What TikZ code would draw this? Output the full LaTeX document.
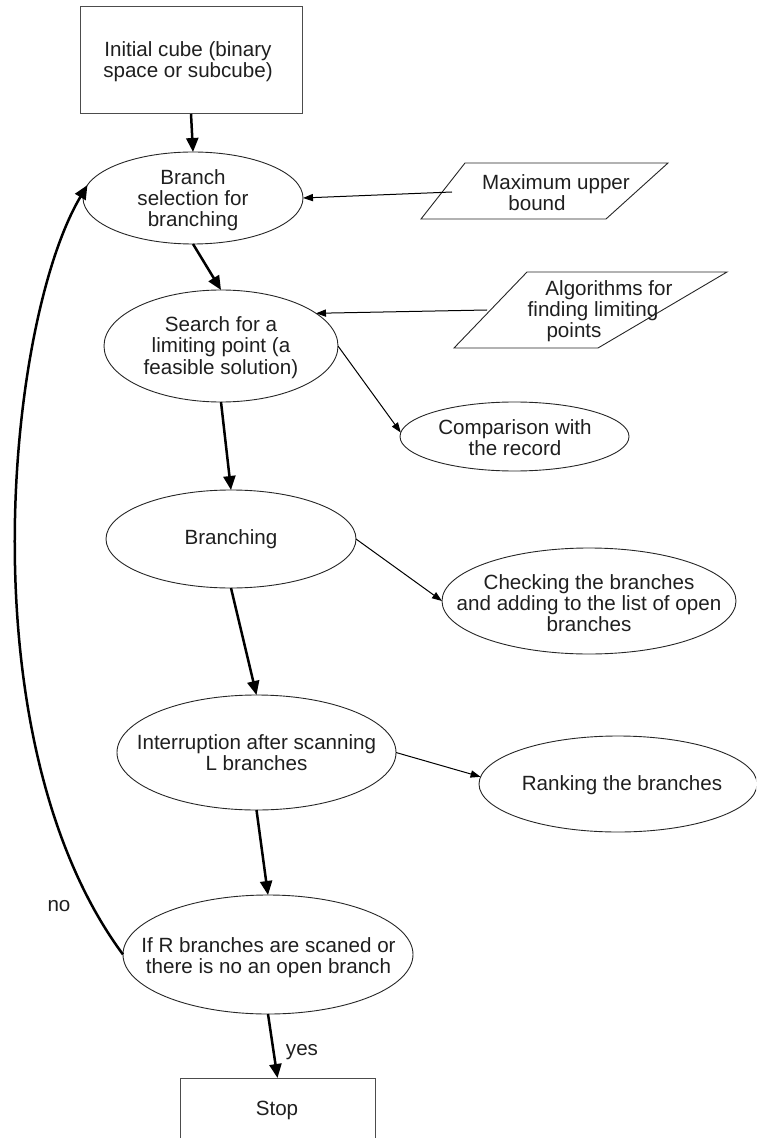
\documentclass[tikz,border=0pt]{standalone}
\usepackage{fontspec}
\setmainfont{Liberation Sans}
\usetikzlibrary{shapes.geometric,arrows.meta}

% shift one centred line sideways without changing its width
\newcommand{\nudge}[2]{\hspace*{#1}#2\hspace*{-#1}}

\begin{document}
\begin{tikzpicture}[x=0.5pt,y=-0.5pt,
  txt/.style={inner sep=0pt,align=center,text=black!88,
    font=\fontsize{10.3pt}{10.6pt}\selectfont},
  oval/.style 2 args={ellipse,draw=black!85,line width=0.45pt,inner sep=0pt,
    outer sep=0pt,minimum width=#1,minimum height=#2},
  block/.style 2 args={rectangle,draw=black!70,line width=0.5pt,inner sep=0pt,
    outer sep=0pt,minimum width=#1,minimum height=#2},
  slant/.style={draw=black!85,line width=0.45pt,line join=miter},
  flow/.style={draw=black,line width=1.25pt,-{Triangle[length=7pt,width=6pt]}},
  side/.style={draw=black,line width=0.5pt,-{Triangle[length=5pt,width=3.6pt]}}]

\useasboundingbox (0,0) rectangle (756,1138);
\clip (0,0) rectangle (756,1138);

% --- main column -------------------------------------------------------
\node[block={111pt}{53.5pt}] (init) at (191,60.5) {};
\node[txt] (init-t) at (188,62) {Initial cube (binary\\space or subcube)};

\node[oval={110pt}{46pt}] (sel) at (193,198) {};
\node[txt] (sel-t) at (193,200) {Branch\\selection for\\branching};

\node[oval={117pt}{56pt}] (search) at (221,346) {};
\node[txt] (search-t) at (221,347.5) {Search for a\\limiting point (a\\feasible solution)};

\node[oval={125pt}{49pt}] (branching) at (231,539) {};
\node[txt] (branching-t) at (231,539) {Branching};

\node[oval={139.5pt}{57.5pt}] (interrupt) at (256.5,752.5) {};
\node[txt] (interrupt-t) at (256.5,753) {Interruption after scanning\\L branches};

\node[oval={145pt}{59.5pt}] (ifr) at (268,954.5) {};
\node[txt] (ifr-t) at (268.5,958) {If R branches are scaned or\\there is no an open branch};

\node[block={97.5pt}{41pt}] (stop) at (277.5,1119) {};
\node[txt] (stop-t) at (277,1110) {Stop};

% --- side nodes ---------------------------------------------------------
\coordinate (mu-tl) at (465,163);
\coordinate (mu-tr) at (668,163);
\coordinate (mu-br) at (606,219);
\coordinate (mu-bl) at (421,219);
\draw[slant] (mu-tl) -- (mu-tr) -- (mu-br) -- (mu-bl) -- cycle;
\node[txt] (maxub) at (546.5,192.5)
  {\nudge{4.75pt}{Maximum upper}\\\nudge{-4.75pt}{bound}};
\coordinate (maxub-out) at (452,192);

\coordinate (al-tl) at (527,272);
\coordinate (al-tr) at (727,272);
\coordinate (al-br) at (598,348);
\coordinate (al-bl) at (454,348);
\draw[slant] (al-tl) -- (al-tr) -- (al-br) -- (al-bl) -- cycle;
\node[txt] (algo) at (592,311)
  {\nudge{8.5pt}{Algorithms for}\\\nudge{1pt}{finding limiting}\\\nudge{-9pt}{points}};
\coordinate (algo-out) at (487,310);

\node[oval={114.5pt}{34.5pt}] (comp) at (514.5,436.5) {};
\node[txt] (comp-t) at (515,437.5) {Comparison with\\the record};

\node[oval={147pt}{53pt}] (check) at (589,601) {};
\node[txt] (check-t) at (589,603) {Checking the branches\\and adding to the list of open\\branches};

\node[oval={139pt}{48pt}] (ranking) at (618,784) {};
\node[txt] (ranking-t) at (622,785) {Ranking the branches};

% --- connectors ---------------------------------------------------------
\draw[flow] (init.south) -- (sel.north);
\draw[flow] (sel.south) -- (search.north);
\draw[flow] (search.south) -- (branching.north);
\draw[flow] (branching.south) -- (interrupt.north);
\draw[flow] (interrupt.south) -- (ifr.north);
\draw[flow] (ifr.south) -- (stop.north);

\draw[side] (maxub-out) -- (sel.east);
\draw[side] (algo-out) -- (search.19);
\draw[side] (search.east) -- (comp.178);
\draw[side] (branching.east) -- (check.west);
\draw[side] (interrupt.east) -- (ranking.177);

\draw[flow] (ifr.west) .. controls +(-159,-215) and +(-80,134) .. (sel.173);

% --- branch labels ------------------------------------------------------
\node[txt,anchor=base] (no) at (59,911) {no};
\node[txt,anchor=base] (yes) at (302,1055) {yes};
\end{tikzpicture}
\end{document}
